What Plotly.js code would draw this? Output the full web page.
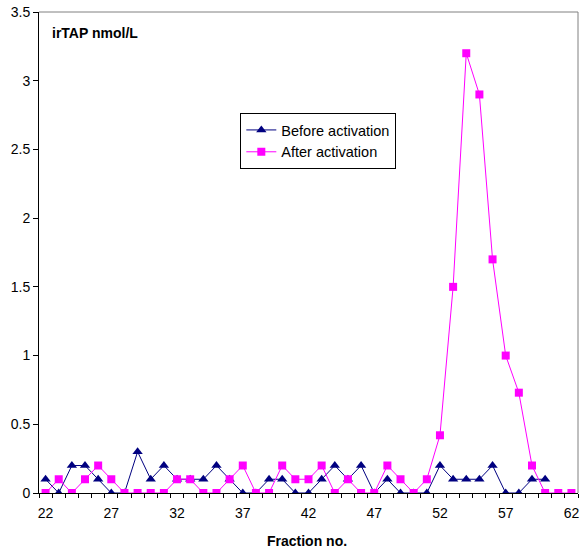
<!DOCTYPE html>
<html>
<head>
<meta charset="utf-8">
<script src="https://cdn.plot.ly/plotly-3.0.1.min.js"></script>
<style>html,body{margin:0;padding:0;background:#fff;}#chart{width:581px;height:551px;}</style>
</head>
<body>
<div id="chart"></div>
<script>
var fractionsBefore = [22,23,24,25,26,27,28,29,30,31,32,33,34,35,36,37,38,39,40,41,42,43,44,45,46,47,48,49,50,51,52,53,54,55,56,57,58,59,60];
var beforeActivation = [0.1,0,0.2,0.2,0.1,0,0,0.3,0.1,0.2,0.1,0.1,0.1,0.2,0.1,0,0,0.1,0.1,0,0,0.1,0.2,0.1,0.2,0,0.1,0,0,0,0.2,0.1,0.1,0.1,0.2,0,0,0.1,0.1];
var fractionsAfter = [22,23,24,25,26,27,28,29,30,31,32,33,34,35,36,37,38,39,40,41,42,43,44,45,46,47,48,49,50,51,52,53,54,55,56,57,58,59,60,61,62];
var afterActivation = [0,0.1,0,0.1,0.2,0.1,0,0,0,0,0.1,0.1,0,0,0.1,0.2,0,0,0.2,0.1,0.1,0.2,0,0.1,0,0,0.2,0.1,0,0.1,0.42,1.5,3.2,2.9,1.7,1.0,0.73,0.2,0,0,0];
var xTickLabels = [22,27,32,37,42,47,52,57,62];
var categoryEdges = [21.5,22.5,23.5,24.5,25.5,26.5,27.5,28.5,29.5,30.5,31.5,32.5,33.5,34.5,35.5,36.5,37.5,38.5,39.5,40.5,41.5,42.5,43.5,44.5,45.5,46.5,47.5,48.5,49.5,50.5,51.5,52.5,53.5,54.5,55.5,56.5,57.5,58.5,59.5,60.5,61.5,62.5];
var yTickVals = [0,0.5,1,1.5,2,2.5,3,3.5];
var yTickText = ['0','0.5','1','1.5','2','2.5','3','3.5'];
var xRange = [21.5, 62.5];

var traces = [
  {x: fractionsBefore, y: beforeActivation, name: 'Before activation', type: 'scatter', mode: 'lines+markers',
   line: {color: '#000080', width: 1}, marker: {symbol: 'triangle-up', size: 9, color: '#000080'}},
  {x: fractionsAfter, y: afterActivation, name: 'After activation', type: 'scatter', mode: 'lines+markers',
   line: {color: '#FF00FF', width: 1}, marker: {symbol: 'square', size: 8, color: '#FF00FF'}},
  {x: [], y: [], xaxis: 'x2', yaxis: 'y', type: 'scatter', mode: 'markers', showlegend: false, hoverinfo: 'skip'}
];

var layout = {
  width: 581, height: 551,
  margin: {l: 39, r: 3, t: 12, b: 58},
  paper_bgcolor: '#fff', plot_bgcolor: '#fff',
  font: {family: 'Liberation Sans, Arial, sans-serif', size: 14, color: '#000'},
  showlegend: true,
  legend: {x: 0.3735, y: 0.79, xanchor: 'left', yanchor: 'top', bgcolor: '#fff',
    bordercolor: '#000', borderwidth: 1, font: {size: 14.5, family: 'Liberation Sans, Arial, sans-serif'}},
  xaxis: {range: xRange, tickmode: 'array', tickvals: categoryEdges, showticklabels: false,
    ticks: 'outside', ticklen: 4, tickcolor: '#000', tickwidth: 1,
    showgrid: false, zeroline: false, showline: true, linecolor: '#000', linewidth: 1},
  xaxis2: {range: xRange, overlaying: 'x', anchor: 'y', side: 'bottom', tickmode: 'array', tickvals: xTickLabels,
    ticktext: xTickLabels.map(String), ticks: '', showgrid: false, zeroline: false, showline: false,
    ticklabelstandoff: 10, tickfont: {size: 14, color: '#000'}},
  yaxis: {range: [0, 3.5], tickmode: 'array', tickvals: yTickVals, ticktext: yTickText,
    ticks: 'outside', ticklen: 5, tickcolor: '#000', showgrid: false, zeroline: false,
    showline: true, linecolor: '#000', linewidth: 1},
  shapes: [
    {type: 'line', xref: 'paper', yref: 'paper', x0: 0, x1: 1, y0: 1, y1: 1, line: {color: '#808080', width: 1}},
    {type: 'line', xref: 'paper', yref: 'paper', x0: 1, x1: 1, y0: 0, y1: 1, line: {color: '#808080', width: 1}}
  ],
  annotations: [
    {text: '<b>irTAP nmol/L</b>', xref: 'paper', yref: 'paper', x: 0.021, y: 0.956, xanchor: 'left', yanchor: 'middle',
     showarrow: false, font: {size: 14, family: 'Liberation Sans, Arial, sans-serif'}},
    {text: '<b>Fraction no.</b>', xref: 'paper', yref: 'paper', x: 0.498, y: -0.1, xanchor: 'center', yanchor: 'middle',
     showarrow: false, font: {size: 14, family: 'Liberation Sans, Arial, sans-serif'}}
  ]
};

Plotly.newPlot('chart', traces, layout, {displayModeBar: false, staticPlot: true});
</script>
</body>
</html>
